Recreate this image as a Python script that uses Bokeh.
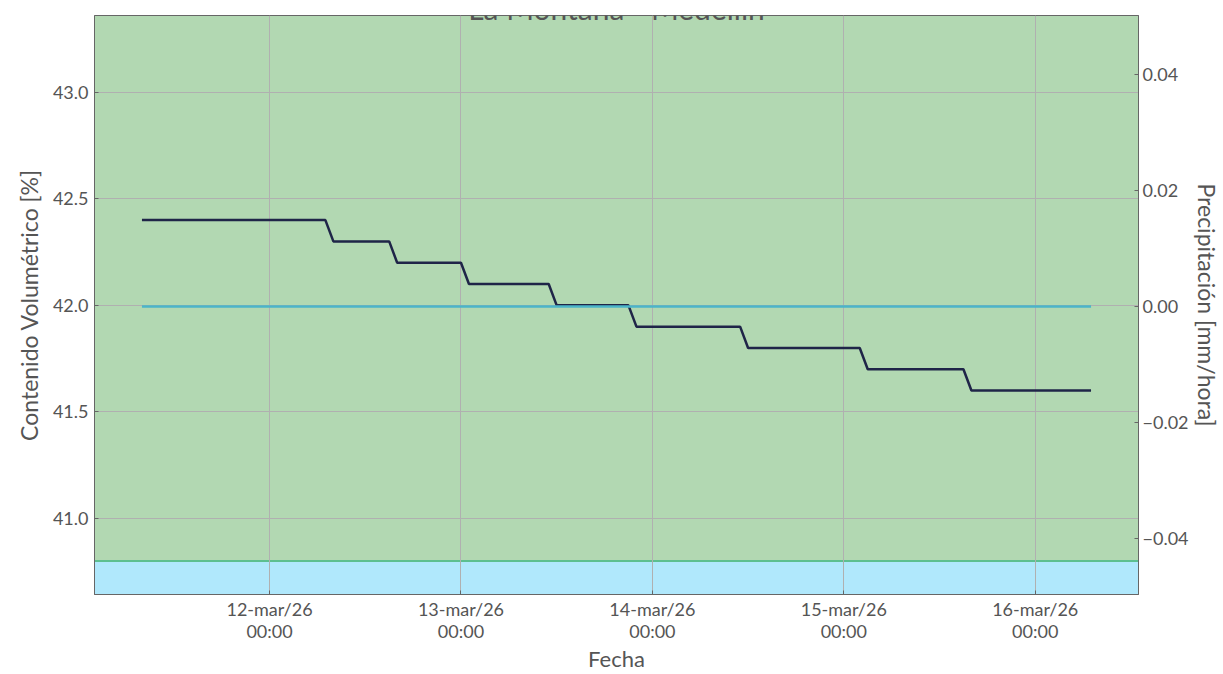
import pandas as pd
from bokeh.plotting import figure
from bokeh.models import (Range1d, LinearAxis, FixedTicker, BoxAnnotation, Span,
                          Label, CustomJSTickFormatter)
from bokeh.embed import file_html
from bokeh.resources import INLINE

# ---------------- data ----------------
title_text = "La Montaña - Medellín"
soil_times = ["2026-03-11 08:00", "2026-03-12 07:00", "2026-03-12 08:00", "2026-03-12 15:00",
              "2026-03-12 16:00", "2026-03-13 00:00", "2026-03-13 01:00", "2026-03-13 11:00",
              "2026-03-13 12:00", "2026-03-13 21:00", "2026-03-13 22:00", "2026-03-14 11:00",
              "2026-03-14 12:00", "2026-03-15 02:00", "2026-03-15 03:00", "2026-03-15 15:00",
              "2026-03-15 16:00", "2026-03-16 07:00"]
soil_values = [42.4, 42.4, 42.3, 42.3, 42.2, 42.2, 42.1, 42.1, 42.0, 42.0,
               41.9, 41.9, 41.8, 41.8, 41.7, 41.7, 41.6, 41.6]
precip_times = ["2026-03-11 08:00", "2026-03-16 07:00"]
precip_values = [0.0, 0.0]
band_threshold = 40.8
x_tick_dates = ["2026-03-12 00:00", "2026-03-13 00:00", "2026-03-14 00:00",
                "2026-03-15 00:00", "2026-03-16 00:00"]
x_tick_labels = ["12-mar/26\n00:00", "13-mar/26\n00:00", "14-mar/26\n00:00",
                 "15-mar/26\n00:00", "16-mar/26\n00:00"]
y_left_ticks = [41.0, 41.5, 42.0, 42.5, 43.0]
y_right_ticks = [-0.04, -0.02, 0.0, 0.02, 0.04]
x_label = "Fecha"
y_left_label = "Contenido Volumétrico [%]"
y_right_label = "Precipitación [mm/hora]"

# ---------------- figure ----------------
FONT = "Lato"
GREY = "#555555"

sx = pd.to_datetime(soil_times)
px = pd.to_datetime(precip_times)
span_ = sx[-1] - sx[0]
x_start = sx[0] - span_ * 0.05
x_end = sx[-1] + span_ * 0.05

p = figure(width=1223, height=674, x_axis_type="datetime",
           x_range=Range1d(x_start, x_end), y_range=Range1d(40.643, 43.36),
           output_backend="svg", toolbar_location=None,
           min_border_left=94, min_border_right=85, min_border_top=15, min_border_bottom=80)
p.extra_y_ranges = {"precip": Range1d(-0.0497, 0.0502)}

p.background_fill_color = "#b2d8b2"
p.border_fill_color = "white"
p.outline_line_color = "#666666"
p.outline_line_width = 1

blue = BoxAnnotation(top=band_threshold, fill_color="#b0e8fc", fill_alpha=1.0,
                     line_alpha=0, level="underlay")
sep = Span(location=band_threshold, dimension="width", line_color="#5dbf8f",
           line_width=2, level="underlay")

p.xgrid.grid_line_color = "#b0b0b0"
p.ygrid.grid_line_color = "#b0b0b0"

# axes
xaxis = p.xaxis[0]
laxis = p.yaxis[0]
tick_ms = [pd.Timestamp(t).value / 1e6 for t in x_tick_dates]
xaxis.ticker = FixedTicker(ticks=tick_ms)
xaxis.formatter = CustomJSTickFormatter(args=dict(tvals=tick_ms, tlabels=x_tick_labels), code="""
let best = 0, bd = Infinity;
for (let i = 0; i < tvals.length; i++) { const d = Math.abs(tvals[i] - tick); if (d < bd) { bd = d; best = i; } }
return tlabels[best];
""")
laxis.ticker = FixedTicker(ticks=y_left_ticks)
laxis.formatter = CustomJSTickFormatter(code="return tick.toFixed(1);")
xaxis.axis_label = x_label
laxis.axis_label = y_left_label

raxis = LinearAxis(y_range_name="precip", ticker=FixedTicker(ticks=y_right_ticks),
                   formatter=CustomJSTickFormatter(code="return (tick < -1e-12 ? '\\u2212' : '') + Math.abs(tick).toFixed(2);"),
                   axis_label=y_right_label)
p.add_layout(raxis, "right")

for ax in [xaxis, laxis, raxis]:
    ax.axis_line_color = "#666666"
    ax.major_tick_in = 4
    ax.major_tick_out = 0
    ax.major_tick_line_color = "#666666"
    ax.minor_tick_line_color = None
    ax.major_label_text_font = FONT
    ax.major_label_text_color = GREY
    ax.major_label_text_font_size = "18px"
    ax.axis_label_text_font = FONT
    ax.axis_label_text_color = GREY
    ax.axis_label_text_font_size = "23px"
    ax.axis_label_text_font_style = "normal"
    ax.axis_label_text_line_height = 1.0
    ax.major_label_standoff = 6
    ax.axis_label_standoff = 7

raxis.major_label_standoff = 4
raxis.axis_label_standoff = 1
xaxis.major_label_standoff = 3
xaxis.axis_label_standoff = 0
xaxis.axis_label_text_font_size = "22px"
xaxis.major_label_text_line_height = 1.0

# data lines
p.line(sx, soil_values, line_color="#1f2548", line_width=2.5)
p.line(px, precip_values, line_color="#4bb5c8", line_width=2.5, y_range_name="precip")

# title (partly cut at the top, as in the reference)
mid = x_start + (x_end - x_start) / 2
title = Label(x=mid, y=43.36, y_offset=8, text=title_text, text_align="center",
              text_baseline="alphabetic", text_font=FONT, text_font_size="30px",
              text_color=GREY)
p.add_layout(title)

p.center = [blue, sep] + list(p.center)

open("out.html", "w").write(file_html(p, INLINE))
